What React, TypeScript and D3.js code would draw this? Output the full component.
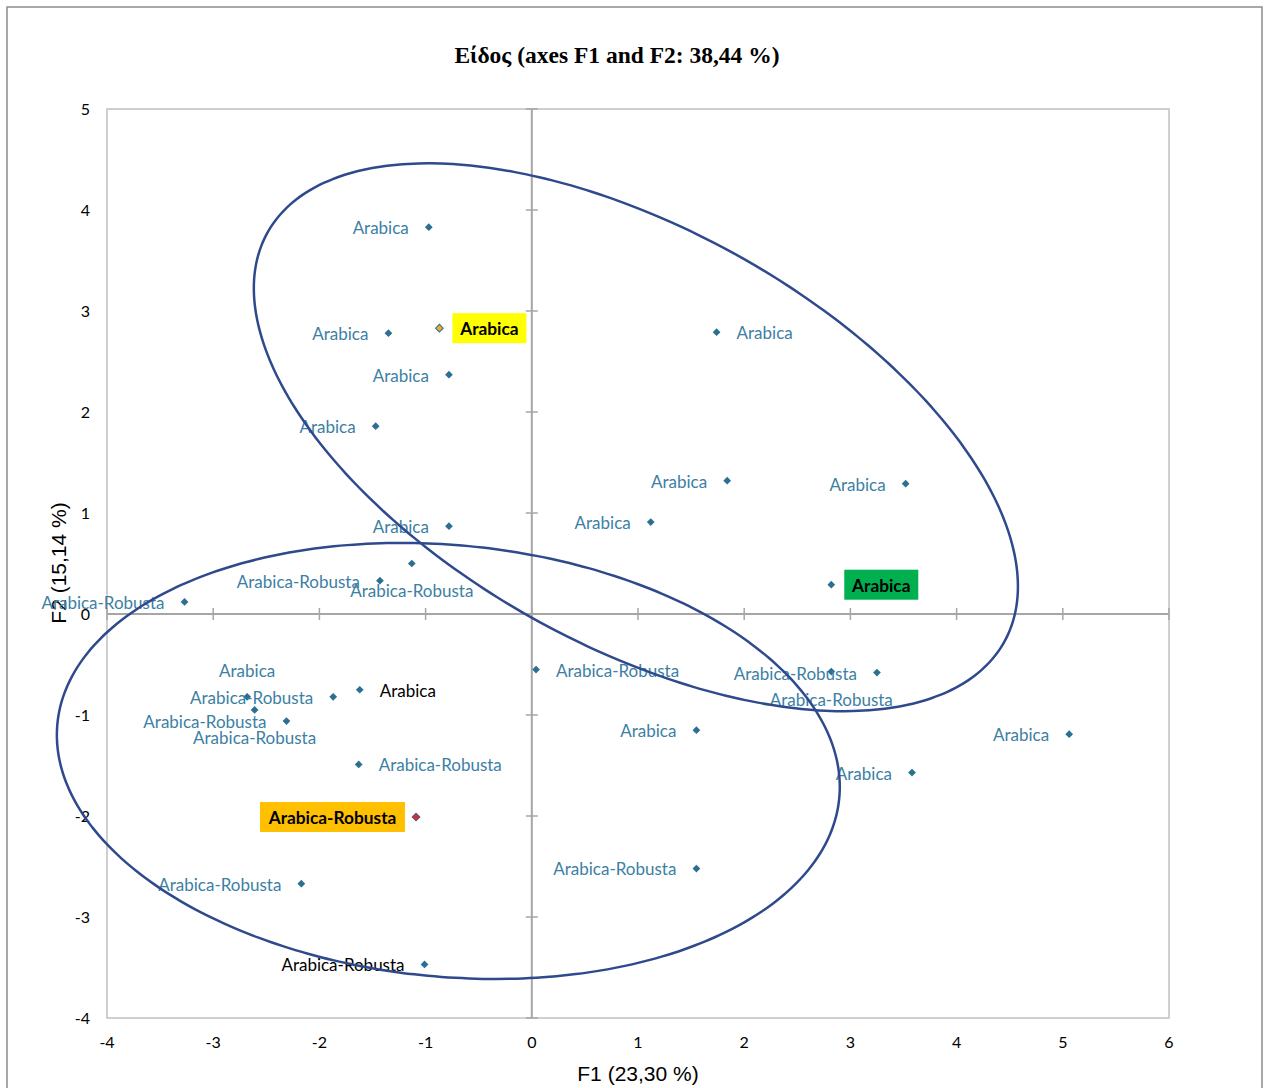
import React from "react";
import * as d3 from "d3";

// Observation scores on the first two factors
const f1 = [-0.97, -1.35, -0.87, -0.78, -1.47, 1.74, 1.84, 3.52, 1.12, -0.78, -1.13, -1.43, -3.27, 2.82, 0.04, 2.82, 3.25, 1.55, 5.06, 3.58, 1.55, -1.62, -1.87, -2.68, -2.61, -2.31, -1.63, -1.09, -2.17, -1.01];
const f2 = [3.83, 2.78, 2.83, 2.37, 1.86, 2.79, 1.32, 1.29, 0.91, 0.87, 0.5, 0.33, 0.12, 0.29, -0.55, -0.57, -0.58, -1.15, -1.19, -1.57, -2.52, -0.75, -0.82, -0.82, -0.95, -1.06, -1.49, -2.01, -2.67, -3.47];
const species = [
  "Arabica", "Arabica", "Arabica", "Arabica", "Arabica", "Arabica", "Arabica", "Arabica", "Arabica", "Arabica",
  "Arabica-Robusta", "Arabica-Robusta", "Arabica-Robusta", "Arabica", "Arabica-Robusta", "Arabica-Robusta", "Arabica-Robusta",
  "Arabica", "Arabica", "Arabica", "Arabica-Robusta", "Arabica", "Arabica-Robusta", "Arabica", "Arabica-Robusta",
  "Arabica-Robusta", "Arabica-Robusta", "Arabica-Robusta", "Arabica-Robusta", "Arabica-Robusta",
];
// Where each label sits relative to its marker
const labelSide = [
  "left", "left", "right", "left", "left", "right", "left", "left", "left", "left",
  "below", "left", "left", "right", "right", "below", "left", "left", "left", "left",
  "left", "right", "left", "above", "below", "left", "right", "left", "left", "left",
];
// Emphasis: "" plain, "dark" black text, or a highlight box colour key
const emphasis = [
  "", "", "yellow", "", "", "", "", "", "", "",
  "", "", "", "green", "", "", "", "", "", "",
  "", "dark", "", "", "", "", "", "orange", "", "dark",
];

const xTicks = [-4, -3, -2, -1, 0, 1, 2, 3, 4, 5, 6];
const yTicks = [5, 4, 3, 2, 1, 0, -1, -2, -3, -4];

// Group ellipses: centre plus two conjugate half-axis vectors (F1, F2 units)
const ellipseCenters = [[0.98, 1.75], [-0.786, -1.455]];
const ellipseU = [[3.469, -2.026], [3.681, -0.369]];
const ellipseV = [[-0.9525, -1.803], [-0.193, -2.127]];

const boxFill: Record<string, string> = { yellow: "#FFFF00", green: "#00B050", orange: "#FFC000" };
const markerFill: Record<string, string> = { yellow: "#F0A830", orange: "#E8262A" };

const W = 1265;
const H = 1088;
const plot = { left: 107, right: 1169, top: 109, bottom: 1018 };
const labelFont = "Lato, 'Open Sans', sans-serif";

export default function App() {
  const x = d3.scaleLinear().domain([-4, 6]).range([plot.left, plot.right]);
  const y = d3.scaleLinear().domain([-4, 5]).range([plot.bottom, plot.top]);

  const ellipsePath = (i: number) => {
    const [cx, cy] = ellipseCenters[i];
    const u = ellipseU[i];
    const v = ellipseV[i];
    const pts = d3.range(0, 360, 2).map((deg) => {
      const t = (deg * Math.PI) / 180;
      return [x(cx + u[0] * Math.cos(t) + v[0] * Math.sin(t)), y(cy + u[1] * Math.cos(t) + v[1] * Math.sin(t))] as [number, number];
    });
    return d3.line().curve(d3.curveCardinalClosed)(pts) || "";
  };

  // square rotated 45° gives an even diamond
  const diamond = d3.symbol().type(d3.symbolSquare).size(30)() || "";

  return (
    <svg width={W} height={H} style={{ position: "absolute", left: 0, top: 0, display: "block", background: "#fff" }}>
      <rect x={7} y={7} width={1255} height={H + 10} fill="#fff" stroke="#8c8c8c" strokeWidth={1.5} />
      <text x={617} y={63} textAnchor="middle" fontFamily="'Liberation Serif', 'Times New Roman', serif" fontWeight="bold" fontSize={23.5}>
        Είδος (axes F1 and F2: 38,44 %)
      </text>

      <rect x={plot.left} y={plot.top} width={plot.right - plot.left} height={plot.bottom - plot.top} fill="none" stroke="#c0c0c0" strokeWidth={1.5} />

      {/* axes through the origin */}
      <line x1={x(0)} x2={x(0)} y1={plot.top} y2={plot.bottom} stroke="#a6a6a6" strokeWidth={2} />
      <line x1={plot.left} x2={plot.right} y1={y(0)} y2={y(0)} stroke="#a6a6a6" strokeWidth={2} />
      {yTicks.map((t) => (
        <line key={"yt" + t} x1={x(0) - 6} x2={x(0) + 6} y1={y(t)} y2={y(t)} stroke="#a6a6a6" strokeWidth={1.5} />
      ))}
      {xTicks.map((t) => (
        <line key={"xt" + t} x1={x(t)} x2={x(t)} y1={y(0) - 6} y2={y(0) + 6} stroke="#a6a6a6" strokeWidth={1.5} />
      ))}

      {yTicks.map((t) => (
        <text key={"yl" + t} x={90} y={y(t)} dy="0.35em" textAnchor="end" fontFamily={labelFont} fontSize={16}>
          {t}
        </text>
      ))}
      {xTicks.map((t) => (
        <text key={"xl" + t} x={x(t)} y={1042} dy="0.35em" textAnchor="middle" fontFamily={labelFont} fontSize={16}>
          {t}
        </text>
      ))}

      <text x={638} y={1081} textAnchor="middle" fontFamily="'Liberation Sans', Arial, sans-serif" fontSize={21}>
        F1 (23,30 %)
      </text>
      <text transform="translate(66,563) rotate(-90)" textAnchor="middle" fontFamily="'Liberation Sans', Arial, sans-serif" fontSize={21}>
        F2 (15,14 %)
      </text>

      {/* markers */}
      {f1.map((v, i) => (
        <path
          key={"m" + i}
          d={diamond}
          transform={`translate(${x(v)},${y(f2[i])}) rotate(45)`}
          fill={markerFill[emphasis[i]] || "#2B6F92"}
          stroke={markerFill[emphasis[i]] ? "#2B6F92" : "none"}
          strokeWidth={1}
        />
      ))}

      {/* labels */}
      {f1.map((v, i) => {
        const px = x(v);
        const py = y(f2[i]);
        const side = labelSide[i];
        const emph = emphasis[i];
        const boxed = !!boxFill[emph];
        let tx = px;
        let ty = py + 1;
        let anchor: "start" | "end" | "middle" = "middle";
        if (side === "left") { tx = px - 20; anchor = "end"; }
        if (side === "right") { tx = px + 20; anchor = "start"; }
        if (side === "below") { ty = py + 28; }
        if (side === "above") { ty = py - 26; }
        if (boxed) {
          const label = species[i];
          const w = label === "Arabica" ? 74 : 145;
          const bx = side === "left" ? px - 11 - w : px + 13;
          const tcx = bx + w / 2;
          return (
            <g key={"l" + i}>
              <rect x={bx} y={py - 15} width={w} height={30} fill={boxFill[emph]} />
              <text x={tcx} y={py + 1} dy="0.35em" textAnchor="middle" fontFamily={labelFont} fontWeight="bold" fontSize={17.3} fill="#000">
                {label}
              </text>
            </g>
          );
        }
        return (
          <text key={"l" + i} x={tx} y={ty} dy="0.35em" textAnchor={anchor} fontFamily={labelFont} fontSize={17} fill={emph === "dark" ? "#000" : "#3C80A4"}>
            {species[i]}
          </text>
        );
      })}

      {/* group ellipses */}
      {ellipseCenters.map((_, i) => (
        <path key={"e" + i} d={ellipsePath(i)} fill="none" stroke="#2E4A8C" strokeWidth={2.5} />
      ))}
    </svg>
  );
}
